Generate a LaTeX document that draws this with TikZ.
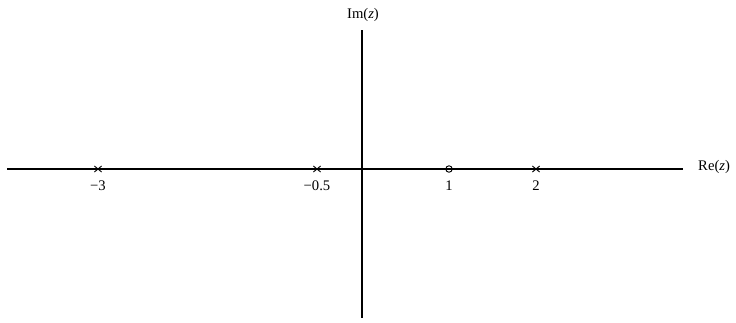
\documentclass[tikz,border=0pt]{standalone}
\usepackage{fontspec}
\setmainfont{Liberation Serif}
\usetikzlibrary{calc}
\begin{document}
\begin{tikzpicture}[x=0.03cm,y=-0.03cm,
  axis/.style={line width=0.9pt},
  lbl/.style={font=\fontsize{12.5}{14}\selectfont, inner sep=0pt},
  pole/.style={line width=0.8pt},
  zero/.style={draw, circle, line width=0.8pt, minimum size=5.5pt, inner sep=0pt}]
\useasboundingbox (0,0) rectangle (736,322);
\coordinate (xl) at (7,169);
\coordinate (xr) at (683,169);
\coordinate (yt) at (362,30);
\coordinate (yb) at (362,318);
\draw[axis] (xl) -- (xr);
\draw[axis] (yt) -- (yb);
\node[lbl, anchor=west] (re) at (698,167) {Re(\textit{z})};
\node[lbl] (im) at (363,15) {Im(\textit{z})};
% poles
\foreach \x/\n in {98/p1, 317/p2, 536/p3} {
  \coordinate (\n) at (\x,169);
  \draw[pole] ($(\n)+(-3.6,-3)$) -- ($(\n)+(3.6,3)$);
  \draw[pole] ($(\n)+(-3.6,3)$) -- ($(\n)+(3.6,-3)$);
}
\node[zero] (z1) at (449,169) {};
\node[lbl] (l1) at (98,186) {−3};
\node[lbl] (l2) at (317,186) {−0.5};
\node[lbl] (l3) at (449,186) {1};
\node[lbl] (l4) at (536,186) {2};
\end{tikzpicture}
\end{document}
